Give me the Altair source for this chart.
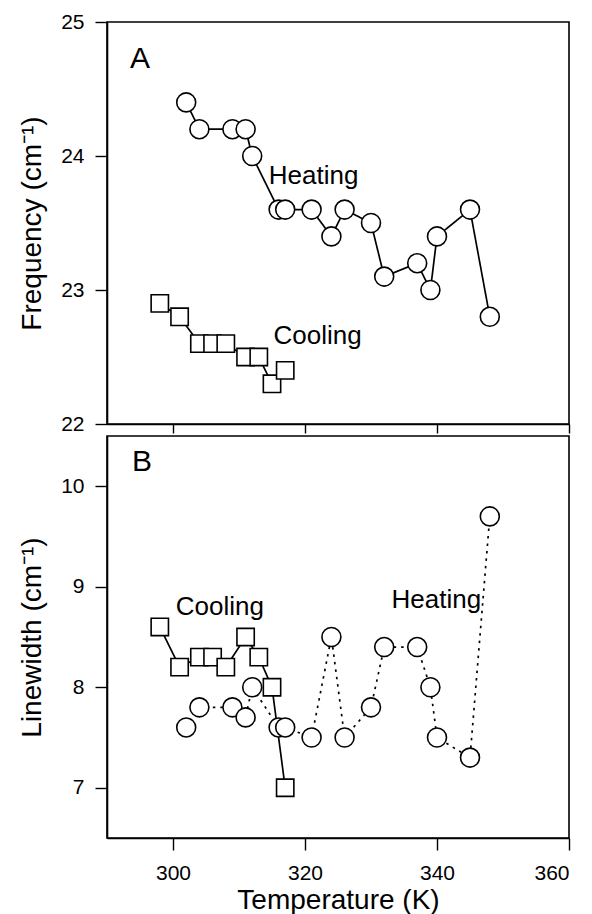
import altair as alt
import pandas as pd

# Heating run (circles)
heat_T = [302, 304, 309, 311, 312, 316, 317, 321, 324, 326, 330, 332, 337, 339, 340, 345, 348]
heat_freq = [24.4, 24.2, 24.2, 24.2, 24.0, 23.6, 23.6, 23.6, 23.4, 23.6, 23.5, 23.1, 23.2, 23.0, 23.4, 23.6, 22.8]
heat_width = [7.6, 7.8, 7.8, 7.7, 8.0, 7.6, 7.6, 7.5, 8.5, 7.5, 7.8, 8.4, 8.4, 8.0, 7.5, 7.3, 9.7]

# Cooling run (squares)
cool_T = [298, 301, 304, 306, 308, 311, 313, 315, 317]
cool_freq = [22.9, 22.8, 22.6, 22.6, 22.6, 22.5, 22.5, 22.3, 22.4]
cool_width = [8.6, 8.2, 8.3, 8.3, 8.2, 8.5, 8.3, 8.0, 7.0]

# Annotations (data coordinates)
a_text = ["A", "Heating", "Cooling"]
a_x = [295.0, 321.3, 321.9]
a_y = [24.66, 23.79, 22.60]
a_size = [30, 26, 26]
b_text = ["B", "Cooling", "Heating"]
b_x = [295.3, 307.1, 339.9]
b_y = [10.15, 8.72, 8.79]
b_size = [30, 26, 26]

FONT = "Liberation Sans"
W, H = 462, 402

heat = pd.DataFrame({"T": heat_T, "freq": heat_freq, "lw": heat_width})
cool = pd.DataFrame({"T": cool_T, "freq": cool_freq, "lw": cool_width})
ann_a = pd.DataFrame({"t": a_text, "x": a_x, "y": a_y, "s": a_size})
ann_b = pd.DataFrame({"t": b_text, "x": b_x, "y": b_y, "s": b_size})

xscale = alt.Scale(domain=[290, 360], nice=False, zero=False)


def panel(field, ydomain, yvalues, ytitle, ann, bottom):
    if bottom:
        xaxis = alt.Axis(values=[300, 320, 340, 360], title="Temperature (K)", format="d",
                         tickSize=12, labelPadding=12, titlePadding=3, grid=False)
    else:
        xaxis = alt.Axis(values=[300, 320, 340, 360], title=None, labels=False,
                         tickSize=9, grid=False)
    yscale = alt.Scale(domain=ydomain, nice=False, zero=False)
    yaxis = alt.Axis(values=yvalues, title=ytitle, format="d", tickSize=12, labelPadding=11,
                     titlePadding=14, grid=False)
    x = alt.X("T:Q", scale=xscale, axis=xaxis)
    y = alt.Y(f"{field}:Q", scale=yscale, axis=yaxis)

    heat_dash = [2.5, 5] if field == "lw" else [1, 0]
    l_heat = alt.Chart(heat).mark_line(color="black", strokeWidth=1.7,
                                       strokeDash=heat_dash).encode(x=x, y=y)
    l_cool = alt.Chart(cool).mark_line(color="black", strokeWidth=1.7).encode(x=x, y=y)
    p_heat = alt.Chart(heat).mark_point(shape="circle", size=360, filled=True,
                                        fill="white", stroke="black", strokeWidth=1.6,
                                        opacity=1).encode(x=x, y=y)
    p_cool = alt.Chart(cool).mark_point(shape="square", size=300, filled=True,
                                        fill="white", stroke="black", strokeWidth=1.6,
                                        opacity=1).encode(x=x, y=y)
    txt = alt.Chart(ann).mark_text(font=FONT, color="black", align="center",
                                   baseline="alphabetic").encode(
        x=alt.X("x:Q", scale=xscale),
        y=alt.Y("y:Q", scale=yscale),
        text="t:N",
        size=alt.Size("s:Q", scale=None, legend=None),
    )
    return alt.layer(l_heat, l_cool, p_heat, p_cool, txt).properties(width=W, height=H)


top = panel("freq", [22, 25], [22, 23, 24, 25], "Frequency (cm⁻¹)", ann_a, False)
bot = panel("lw", [6.5, 10.5], [7, 8, 9, 10], "Linewidth (cm⁻¹)", ann_b, True)

chart = alt.vconcat(top, bot, spacing=0).properties(
    padding={"left": 17, "top": 10, "right": 12, "bottom": 0},
    background="white",
).configure_view(
    stroke="black", strokeWidth=1.6
).configure_axis(
    domainColor="black", domainWidth=1.6, tickColor="black", tickWidth=1.4,
    labelColor="black", titleColor="black", labelFont=FONT, titleFont=FONT,
    labelFontSize=21, titleFontSize=28, titleFontWeight="normal",
)

chart.save("out.html", embed_options={"renderer": "svg", "actions": False})
